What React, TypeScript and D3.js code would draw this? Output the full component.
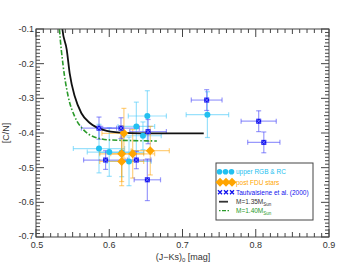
import React from "react";
import * as d3 from "d3";

const W = 347, H = 278;
const M = { left: 36, right: 18, top: 29, bottom: 41 };

const xTicks = [0.5, 0.6, 0.7, 0.8, 0.9];
const yTicks = [-0.1, -0.2, -0.3, -0.4, -0.5, -0.6, -0.7];

// upper RGB & RC
const rgbX = [0.734, 0.652, 0.637, 0.646, 0.586, 0.600, 0.617, 0.627];
const rgbY = [-0.347, -0.351, -0.381, -0.408, -0.445, -0.455, -0.456, -0.482];
const rgbXe = [0.029, 0.026, 0.025, 0.025, 0.035, 0.03, 0.03, 0.03];
const rgbYe = [0.066, 0.073, 0.07, 0.04, 0.07, 0.07, 0.07, 0.07];

// post FDU stars
const fduX = [0.620, 0.656, 0.632, 0.617, 0.617];
const fduY = [-0.401, -0.451, -0.460, -0.460, -0.482];
const fduXe = [0.03, 0.026, 0.03, 0.03, 0.03];
const fduYe = [0.072, 0.07, 0.07, 0.08, 0.07];

// Tautvaisiene et al. (2000)
const tauX = [0.586, 0.616, 0.653, 0.595, 0.637, 0.652, 0.733, 0.804, 0.811];
const tauY = [-0.386, -0.386, -0.396, -0.478, -0.478, -0.535, -0.305, -0.366, -0.427];
const tauXe = [0.024, 0.025, 0.025, 0.03, 0.02, 0.018, 0.021, 0.024, 0.022];
const tauYe = [0.032, 0.03, 0.035, 0.027, 0.025, 0.06, 0.03, 0.03, 0.03];

// model tracks
const m135X = [0.535, 0.536, 0.542, 0.546, 0.553, 0.562, 0.574, 0.592, 0.615, 0.642, 0.729];
const m135Y = [-0.07, -0.1, -0.16, -0.228, -0.295, -0.343, -0.372, -0.391, -0.399, -0.401, -0.401];
const m140X = [0.531, 0.532, 0.537, 0.544, 0.553, 0.565, 0.578, 0.601, 0.665];
const m140Y = [-0.07, -0.1, -0.205, -0.295, -0.353, -0.391, -0.41, -0.42, -0.423];

const FONT = "'Liberation Sans', Arial, Helvetica, sans-serif";
const AX = "#444";

export default function App() {
  const x = d3.scaleLinear().domain([0.5, 0.9]).range([M.left, W - M.right]);
  const y = d3.scaleLinear().domain([-0.7, -0.1]).range([H - M.bottom, M.top]);
  const x0 = M.left, x1 = W - M.right, y0 = M.top, y1 = H - M.bottom;

  const minorX = d3.range(0, 41).map((i) => 0.5 + i * 0.01);
  const minorY = d3.range(0, 61).map((i) => -0.7 + i * 0.01);

  const line = d3.line<[number, number]>().x((d) => x(d[0])).y((d) => y(d[1])).curve(d3.curveMonotoneX);
  const l135 = line(m135X.map((v, i) => [v, m135Y[i]]) as [number, number][]) || "";
  const l140 = line(m140X.map((v, i) => [v, m140Y[i]]) as [number, number][]) || "";

  const errBars = (xs: number[], ys: number[], xe: number[], ye: number[], color: string, key: string) =>
    xs.map((v, i) => {
      const cx = x(v), cy = y(ys[i]);
      const xl = x(v - xe[i]), xr = x(v + xe[i]);
      const yt = y(ys[i] + ye[i]), yb = y(ys[i] - ye[i]);
      const c = 2.5;
      return (
        <g key={key + i} stroke={color} strokeWidth={1.2} fill="none">
          <line x1={xl} x2={xr} y1={cy} y2={cy} />
          <line x1={cx} x2={cx} y1={yt} y2={yb} />
          <line x1={xl} x2={xl} y1={cy - c} y2={cy + c} />
          <line x1={xr} x2={xr} y1={cy - c} y2={cy + c} />
          <line x1={cx - c} x2={cx + c} y1={yt} y2={yt} />
          <line x1={cx - c} x2={cx + c} y1={yb} y2={yb} />
        </g>
      );
    });

  const cyan = "#22c0f0";
  const orange = "#ffa500";
  const blue = "#1010ee";
  const green = "#2a9a2a";

  const diamond = (cx: number, cy: number, r: number) =>
    `M${cx},${cy - r}L${cx + r},${cy}L${cx},${cy + r}L${cx - r},${cy}Z`;
  const xMark = (cx: number, cy: number, k: string, color = blue) => (
    <g key={k}>
      <rect x={cx - 2.5} y={cy - 2.5} width={5} height={5} fill={color} />
      <path d={`M${cx - 2},${cy - 2}L${cx + 2},${cy + 2}M${cx - 2},${cy + 2}L${cx + 2},${cy - 2}`} stroke="#8888ff" strokeWidth={0.8} />
    </g>
  );

  const lx = 216, ly = 163, lw = 97, lh = 57;

  return (
    <svg width={W} height={H} style={{ position: "absolute", left: 0, top: 0, background: "#fff" }} fontFamily={FONT}>
      <defs>
        <clipPath id="plot">
          <rect x={x0} y={y0} width={x1 - x0} height={y1 - y0} />
        </clipPath>
      </defs>

      <g stroke={AX} strokeWidth={1}>
        {minorX.map((v, i) => {
          const major = i % 10 === 0;
          const len = major ? 8 : i % 5 === 0 ? 5 : 4;
          return (
            <g key={"tx" + i}>
              <line x1={x(v)} x2={x(v)} y1={y1} y2={y1 - len} />
              <line x1={x(v)} x2={x(v)} y1={y0} y2={y0 + len} />
            </g>
          );
        })}
        {minorY.map((v, i) => {
          const major = i % 10 === 0;
          const len = major ? 8 : i % 5 === 0 ? 5 : 4;
          return (
            <g key={"ty" + i}>
              <line x1={x0} x2={x0 + len} y1={y(v)} y2={y(v)} />
              <line x1={x1} x2={x1 - len} y1={y(v)} y2={y(v)} />
            </g>
          );
        })}
      </g>

      <g clipPath="url(#plot)">
        {errBars(rgbX, rgbY, rgbXe, rgbYe, "rgba(70,200,250,0.55)", "rb")}
        {errBars(fduX, fduY, fduXe, fduYe, "rgba(255,170,20,0.55)", "fb")}
        {errBars(tauX, tauY, tauXe, tauYe, "rgba(70,70,250,0.55)", "tb")}

        <path d={l140} fill="none" stroke={green} strokeWidth={1.6} strokeDasharray="5,2,1.5,2" />
        <path d={l135} fill="none" stroke="#111" strokeWidth={1.8} />

        {rgbX.map((v, i) => (
          <circle key={"rc" + i} cx={x(v)} cy={y(rgbY[i])} r={3} fill={cyan} />
        ))}
        {fduX.map((v, i) => (
          <path key={"fd" + i} d={diamond(x(v), y(fduY[i]), 4.5)} fill={orange} />
        ))}
        {tauX.map((v, i) => xMark(x(v), y(tauY[i]), "tm" + i))}
      </g>

      <rect x={x0} y={y0} width={x1 - x0} height={y1 - y0} fill="none" stroke={AX} strokeWidth={1} />

      <g fontSize={9} fill="#333">
        {xTicks.map((v) => (
          <text key={"xl" + v} x={x(v) + (v === 0.5 ? 1 : 0)} y={y1 + 11} textAnchor="middle">
            {v.toFixed(1)}
          </text>
        ))}
        {yTicks.map((v) => (
          <text key={"yl" + v} x={x0 - 2} y={y(v) + (v === -0.7 ? 2 : 3)} textAnchor="end">
            {v.toFixed(1)}
          </text>
        ))}
      </g>

      <text x={183} y={y1 + 23} fontSize={9} fill="#333" textAnchor="middle">
        (J−Ks)
        <tspan fontSize={6} dy={2}>0</tspan>
        <tspan dy={-2}> [mag]</tspan>
      </text>
      <text transform={`translate(9,${y(-0.4)}) rotate(-90)`} fontSize={9} fill="#333" textAnchor="middle">
        [C/N]
      </text>

      <g>
        <rect x={lx} y={ly} width={lw} height={lh} fill="#fff" stroke={AX} strokeWidth={1} />
        {[219.5, 225.5, 231.5].map((px, i) => (
          <circle key={"lc" + i} cx={px} cy={171.7} r={2.8} fill={cyan} />
        ))}
        {[220, 226, 232].map((px, i) => (
          <path key={"ld" + i} d={diamond(px, 182.3, 4.5)} fill={orange} />
        ))}
        {[220, 226, 232].map((px, i) => (
          <path key={"lx" + i} d={`M${px - 2},${192.3 - 2}L${px + 2},${192.3 + 2}M${px - 2},${192.3 + 2}L${px + 2},${192.3 - 2}`} stroke={blue} strokeWidth={1.3} />
        ))}
        <line x1={219} x2={228} y1={201.7} y2={201.7} stroke="#333" strokeWidth={1.8} />
        <line x1={219} x2={230} y1={210.7} y2={210.7} stroke={green} strokeWidth={1.3} strokeDasharray="1.5,1.5,4,1.5" />
        <g fontSize={6.5}>
          <text x={236} y={174} fill={cyan}>upper RGB &amp; RC</text>
          <text x={236} y={184.5} fill={orange}>post FDU stars</text>
          <text x={236} y={194.5} fill={blue}>Tautvaisiene et al. (2000)</text>
          <text x={236} y={204} fill="#333">
            M=1.35M<tspan fontSize={4.5} dy={1.5}>Sun</tspan>
          </text>
          <text x={236} y={213} fill={green}>
            M=1.40M<tspan fontSize={4.5} dy={1.5}>Sun</tspan>
          </text>
        </g>
      </g>
    </svg>
  );
}
